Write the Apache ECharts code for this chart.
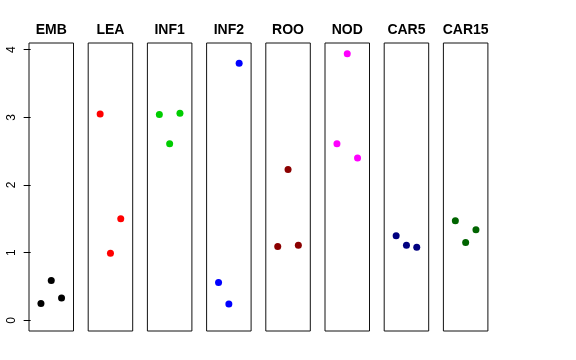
<!DOCTYPE html>
<html>
<head>
<meta charset="utf-8">
<script src="https://cdn.jsdelivr.net/npm/echarts@6/dist/echarts.min.js"></script>
<style>html,body{margin:0;padding:0;background:#fff;}#c{width:576px;height:360px;}</style>
</head>
<body>
<div id="c"></div>
<script>
const categories = ['EMB', 'LEA', 'INF1', 'INF2', 'ROO', 'NOD', 'CAR5', 'CAR15'];
const xPositions = [1, 2, 3];
const EMB = [0.25, 0.59, 0.33];
const LEA = [3.05, 0.99, 1.50];
const INF1 = [3.04, 2.61, 3.06];
const INF2 = [0.56, 0.24, 3.80];
const ROO = [1.09, 2.23, 1.11];
const NOD = [2.61, 3.94, 2.40];
const CAR5 = [1.25, 1.11, 1.08];
const CAR15 = [1.47, 1.15, 1.34];
const yTicks = [0, 1, 2, 3, 4];
const colors = ['#000000', '#FF0000', '#00CD00', '#0000FF', '#8B0000', '#FF00FF', '#000080', '#006400'];
const seriesValues = [EMB, LEA, INF1, INF2, ROO, NOD, CAR5, CAR15];

const grids = [], xAxes = [], yAxes = [], series = [];
const left0 = 29, step = 59.2, w = 44.5;
categories.forEach((name, i) => {
  grids.push({left: left0 + i * step, width: w, top: 43, height: 288, show: true, borderColor: '#111', borderWidth: 1, backgroundColor: 'transparent'});
  xAxes.push({
    type: 'value', gridIndex: i, min: -0.16, max: 4.16, position: 'top',
    name: name, nameLocation: 'middle', nameGap: 6,
    nameTextStyle: {fontFamily: 'Liberation Sans', fontWeight: 'bold', fontSize: 14, color: '#000'},
    axisLine: {show: false}, axisTick: {show: false}, axisLabel: {show: false}, splitLine: {show: false}
  });
  const first = i === 0;
  yAxes.push({
    type: 'value', gridIndex: i, min: -0.158, max: 4.098,
    axisLine: {show: false},
    axisTick: {show: first, length: 7, inside: false, customValues: yTicks, lineStyle: {color: '#000', width: 1}},
    axisLabel: {show: first, customValues: yTicks, rotate: 90, margin: 11, fontFamily: 'Liberation Sans', fontSize: 12, color: '#000'},
    splitLine: {show: false}
  });
  series.push({
    type: 'scatter', xAxisIndex: i, yAxisIndex: i, symbol: 'circle', symbolSize: 7,
    itemStyle: {color: colors[i], opacity: 1},
    data: seriesValues[i].map((v, j) => [xPositions[j], v]),
    silent: true
  });
});

const chart = echarts.init(document.getElementById('c'), null, {renderer: 'canvas'});
chart.setOption({
  animation: false,
  backgroundColor: '#fff',
  grid: grids, xAxis: xAxes, yAxis: yAxes, series: series
});
</script>
</body>
</html>
